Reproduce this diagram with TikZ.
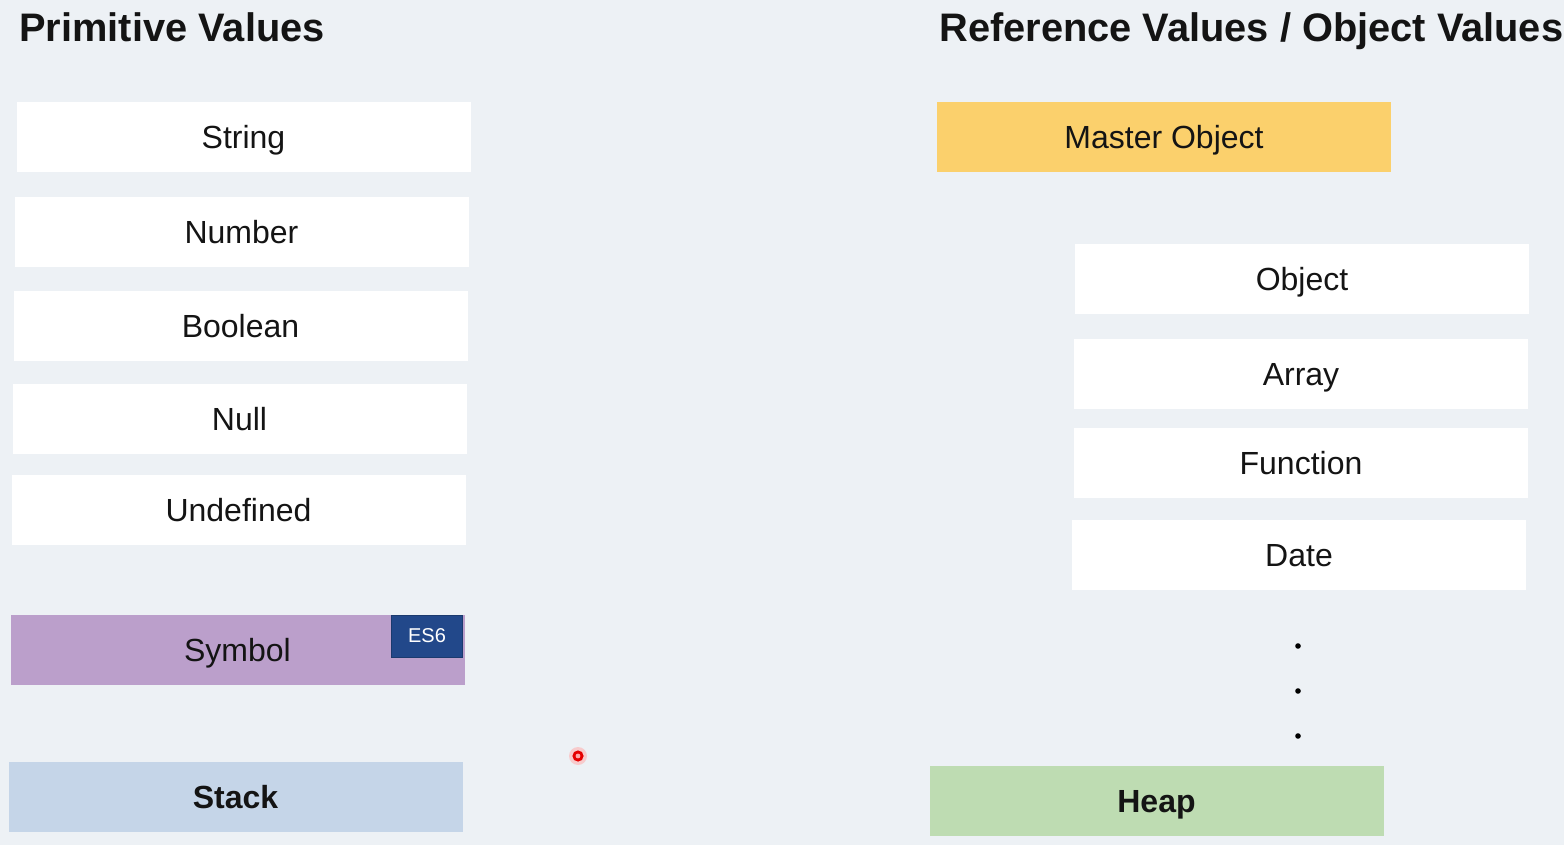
\documentclass[tikz,border=0pt]{standalone}
\usepackage{fontspec}
\setmainfont{Liberation Sans}
\usetikzlibrary{positioning}
\definecolor{bgcol}{HTML}{EDF1F5}
\definecolor{symcol}{HTML}{BB9FCB}
\definecolor{escol}{HTML}{22488A}
\definecolor{stackcol}{HTML}{C5D5E8}
\definecolor{mastercol}{HTML}{FBD06C}
\definecolor{heapcol}{HTML}{BEDCB2}
\definecolor{inkcol}{HTML}{141414}

\begin{document}
\begin{tikzpicture}[x=0.5pt, y=-0.5pt, font=\fontsize{16}{19}\selectfont, text=inkcol]
    \tikzset{cell/.style={fill=white, minimum width=227pt, minimum height=35pt, inner sep=0pt,
        text height=11.5pt, text depth=0pt},
      head/.style={anchor=base west, inner sep=0pt, font=\fontsize{19.9}{24}\selectfont\bfseries}}
    \path[use as bounding box, fill=bgcol] (0,0) rectangle (1564,845);
    \node[head] (ph) at (19,42) {Primitive Values};
    \node[head] (rh) at (939,42) {Reference Values / Object Values};
    \node[cell] (str) at (243.5,137) {String};
    \node[cell, below=12pt of str, xshift=-1pt] (num) {Number};
    \node[cell, below=11.5pt of num, xshift=-0.5pt] (bool) {Boolean};
    \node[cell, below=11.5pt of bool, xshift=-0.5pt] (nul) {Null};
    \node[cell, below=10pt of nul, xshift=-0.5pt] (und) {Undefined};
    \node[cell, below=34.5pt of und, xshift=-0.5pt, fill=symcol] (sym) {Symbol};
    \node[fill=escol, draw=escol!80!black, text=white, font=\fontsize{10}{12}\selectfont,
      minimum width=35.5pt, minimum height=21pt, inner sep=0pt, anchor=north east]
      (es6) at ([xshift=-1pt]sym.north east) {ES6};
    \node[cell, below=38pt of sym, xshift=-1pt, fill=stackcol, font=\fontsize{16}{19}\selectfont\bfseries] (stk) {Stack};
    \node[cell, fill=mastercol] (mst) at (1164,137) {Master Object};
    \node[cell] (obj) at (1302,279) {Object};
    \node[cell, below=12pt of obj, xshift=-0.5pt] (arr) {Array};
    \node[cell, below=9pt of arr] (fun) {Function};
    \node[cell, below=11pt of fun, xshift=-1pt] (dat) {Date};
    \node[cell, fill=heapcol, font=\fontsize{16}{19}\selectfont\bfseries] (hp) at (1156.5,801) {Heap};
    \foreach \y in {646,691,736}
      \fill (1298,\y) circle (1.4pt);
    \fill[red!30, opacity=0.6] (578,756) circle (4.5pt);
    \fill[red!90!black] (578,756) circle (2.8pt);
    \fill[red!35] (578,756) circle (1.2pt);
  \end{tikzpicture}
\end{document}
